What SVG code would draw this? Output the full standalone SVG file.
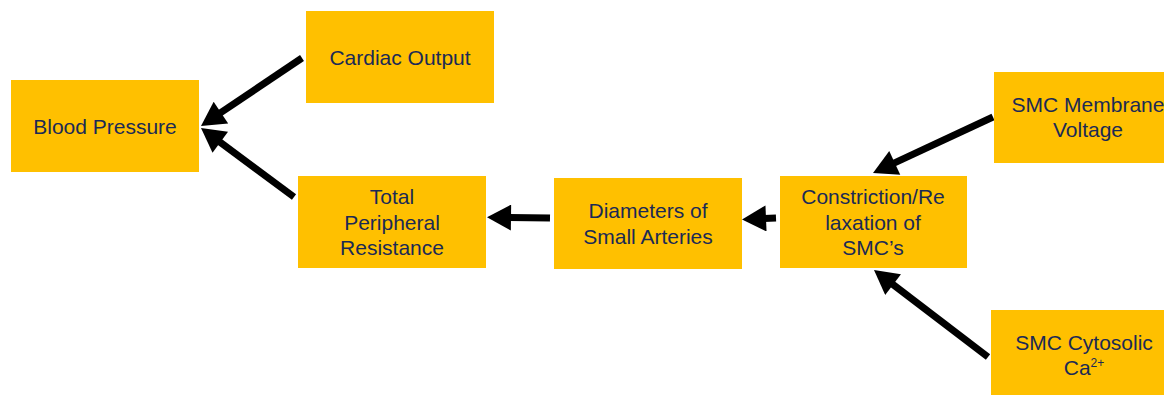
<svg xmlns="http://www.w3.org/2000/svg" width="1164" height="395" viewBox="0 0 1164 395">
<style>
.box{fill:#FFC000}
.t{font-family:"Liberation Sans",Arial,sans-serif;font-size:21px;fill:#1b2a55;text-anchor:middle}
.c{stroke:#000;stroke-width:7;fill:none;marker-end:url(#ah)}
</style>
<defs>
<marker id="ah" markerUnits="userSpaceOnUse" markerWidth="26" markerHeight="26" viewBox="0 0 24 26" refX="2" refY="13" orient="auto">
<path d="M0,0 L24,13 L0,26 z" fill="#000"/>
</marker>
</defs>
<rect width="1164" height="395" fill="#fff"/>
<g id="connectors">
<line class="c" x1="302" y1="58" x2="219.25" y2="113.71"/>
<line class="c" x1="294" y1="197" x2="218.67" y2="141.11"/>
<line class="c" x1="550" y1="218" x2="509" y2="217.5"/>
<line class="c" x1="776" y1="218" x2="764" y2="218.5"/>
<line class="c" x1="993" y1="117" x2="892.94" y2="163.7"/>
<line class="c" x1="988" y1="357" x2="891.49" y2="283.35"/>
</g>
<g id="blood-pressure"><rect class="box" x="11" y="80" width="188" height="92"/><text class="t" x="105" y="134">Blood Pressure</text></g>
<g id="cardiac-output"><rect class="box" x="306" y="11" width="188" height="92"/><text class="t" x="400" y="65">Cardiac Output</text></g>
<g id="tpr"><rect class="box" x="298" y="176" width="188" height="92"/><text class="t" x="392" y="204">Total</text><text class="t" x="392" y="230">Peripheral</text><text class="t" x="392" y="255">Resistance</text></g>
<g id="diameters"><rect class="box" x="554" y="178" width="188" height="91"/><text class="t" x="648" y="218">Diameters of</text><text class="t" x="648" y="244">Small Arteries</text></g>
<g id="constriction"><rect class="box" x="780" y="176" width="187" height="92"/><text class="t" x="873" y="204">Constriction/Re</text><text class="t" x="873" y="230">laxation of</text><text class="t" x="873" y="255">SMC’s</text></g>
<g id="membrane"><rect class="box" x="994" y="72" width="188" height="91"/><text class="t" x="1088" y="112">SMC Membrane</text><text class="t" x="1088" y="137">Voltage</text></g>
<g id="cytosolic"><rect class="box" x="991" y="310" width="188" height="92"/><text class="t" x="1084" y="350">SMC Cytosolic</text><text class="t" x="1084" y="375">Ca<tspan font-size="12" dy="-8">2+</tspan></text></g>
</svg>
